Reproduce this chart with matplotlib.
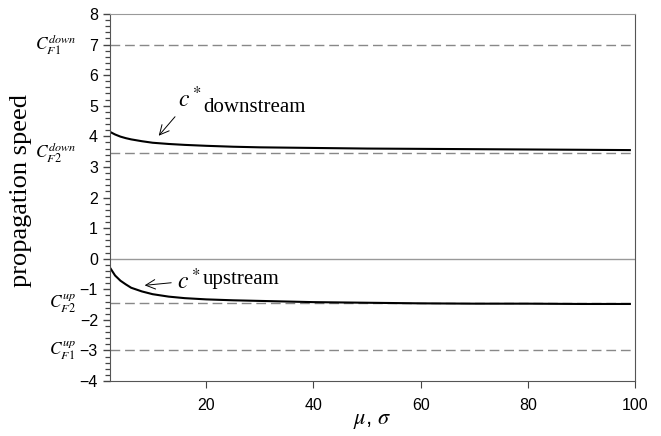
import matplotlib
matplotlib.use("Agg")
import matplotlib.pyplot as plt
from matplotlib.transforms import blended_transform_factory

plt.rcParams['font.family'] = ['Liberation Sans', 'DejaVu Sans']
plt.rcParams['mathtext.fontset'] = 'stix'

# values
mu = [2, 3, 4, 5, 6, 8, 10, 13, 16, 20, 25, 30, 40, 50, 60, 70, 80, 90, 99]
c_down = [4.15, 4.06, 3.99, 3.94, 3.90, 3.84, 3.79, 3.75, 3.72, 3.69, 3.66, 3.64,
          3.62, 3.60, 3.59, 3.58, 3.57, 3.56, 3.55]
c_up = [-0.28, -0.55, -0.72, -0.84, -0.95, -1.07, -1.16, -1.24, -1.29, -1.33, -1.36,
        -1.38, -1.42, -1.44, -1.46, -1.47, -1.47, -1.48, -1.48]

limits = [7.0, 3.46, -1.45, -3.0]
limit_labels = [r'$C_{F1}^{down}$', r'$C_{F2}^{down}$', r'$C_{F2}^{up}$', r'$C_{F1}^{up}$']

fig = plt.figure(figsize=(6.61, 4.36), dpi=100)
ax = fig.add_axes([0.166, 0.126, 0.795, 0.842])

ax.axhline(0, color='#999999', lw=1.0)
for v in limits:
    ax.axhline(v, color='#888888', lw=1.0, dashes=(7, 3.5))

ax.plot(mu, c_down, color='black', lw=1.5)
ax.plot(mu, c_up, color='black', lw=1.5)

ax.set_xlim(2, 100)
ax.set_ylim(-4, 8)
ax.set_xticks([20, 40, 60, 80, 100])
ax.set_yticks(range(-4, 9))
ax.set_yticks([i * 0.2 for i in range(-20, 41)], minor=True)
ax.tick_params(axis='both', which='both', direction='out', labelsize=11.5, color='#444444')
ax.tick_params(axis='y', which='major', length=5, width=1)
ax.tick_params(axis='y', which='minor', length=3.5, width=0.9)
ax.tick_params(axis='x', length=5, pad=7)

for side in ['left', 'bottom', 'right']:
    ax.spines[side].set_color('#555555')
ax.spines['top'].set_color('#999999')

trans = blended_transform_factory(ax.transAxes, ax.transData)
for v, lab in zip(limits, limit_labels):
    ax.text(-0.063, v, lab, transform=trans, ha='right', va='center', fontsize=12.5)

ax.annotate(r'$c^*$', xy=(10.8, 3.95), xytext=(14.8, 4.8), fontsize=17,
            ha='left', va='bottom', arrowprops=dict(arrowstyle='->', color='black', lw=0.7))
ax.text(19.5, 4.95, 'downstream', fontsize=15, family='Liberation Serif', va='center')
ax.annotate(r'$c^*$', xy=(8.0, -0.88), xytext=(14.5, -1.15), fontsize=17,
            ha='left', va='bottom', arrowprops=dict(arrowstyle='->', color='black', lw=0.7))
ax.text(19.3, -0.68, 'upstream', fontsize=15, family='Liberation Serif', va='center')

ax.set_ylabel('propagation speed', fontsize=19, family='Liberation Serif')
ax.yaxis.set_label_coords(-0.148, 0.52)
ax.set_xlabel(r'$\mu$, $\sigma$', fontsize=16)
ax.xaxis.set_label_coords(0.5, -0.08)

fig.savefig('out.png', dpi=100)
